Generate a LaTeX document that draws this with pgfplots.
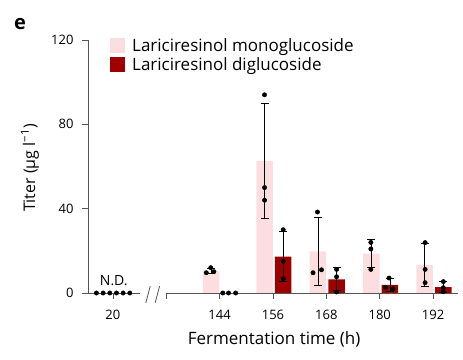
\documentclass[border=0pt]{standalone}
\usepackage{pgfplots}
\pgfplotsset{compat=1.18}
\usepackage{fontspec}
\setmainfont{Open Sans}
\definecolor{mono}{RGB}{252,222,224}
\definecolor{digl}{RGB}{158,0,0}
\definecolor{axgray}{RGB}{85,85,85}
\begin{document}
\begin{tikzpicture}
\begin{axis}[
  scale only axis, width=370pt, height=253pt,
  xmin=114.4, xmax=197.6, ymin=0, ymax=120,
  axis x line*=bottom, axis y line*=left,
  x axis line style={draw=none},
  y axis line style={axgray, line width=0.8pt, -},
  xtick={120,132,144,156,168,180,192},
  xticklabels={20,,144,156,168,180,192},
  ytick={0,40,80,120},
  tick align=outside, major tick length=6pt,
  tick style={axgray, line width=0.8pt},
  clip=false,
  /pgf/number format/assume math mode=true,
  ticklabel style={font=\fontsize{13}{15}\selectfont},
  xticklabel style={yshift=-8pt},
  yticklabel style={xshift=-5pt},
  xlabel={Fermentation time (h)},
  xlabel style={at={(axis description cs:0.503,-0.2055)}, anchor=base, font=\fontsize{17}{19}\selectfont},
  ylabel={Titer (μg l\textsuperscript{−1})},
  ylabel style={at={(axis description cs:-0.143,0.494)}, anchor=base, font=\fontsize{16}{18}\selectfont},
  legend style={at={(axis description cs:0.0595,1.008)}, anchor=north west, draw=none, fill=none,
    inner sep=0pt, row sep=4pt, font=\fontsize{17}{19}\selectfont,
    nodes={inner sep=0pt},
    /tikz/every odd column/.append style={column sep=7pt}},
  legend cell align=left,
]
\addplot[ybar, bar width=3.71, bar shift=0pt, fill=mono, draw=none,
  legend image code/.code={\fill[mono] (0pt,-7.5pt) rectangle (15pt,7.5pt);}]
  coordinates {(142.1,10.5) (154.1,62.7) (166.1,19.8) (178.1,18.7) (190.1,13.3)};
\addlegendentry{Lariciresinol monoglucoside}
\addplot[ybar, bar width=3.71, bar shift=0pt, fill=digl, draw=none,
  legend image code/.code={\fill[digl] (0pt,-7.5pt) rectangle (15pt,7.5pt);}]
  coordinates {(146.3,0) (158.3,17.3) (170.3,6.5) (182.3,3.9) (194.3,2.8)};
\addlegendentry{Lariciresinol diglucoside}
% error bars
\addplot[forget plot, draw=none, mark=none,
  error bars/.cd, y dir=both, y explicit,
  error bar style={draw=black, line width=0.7pt},
  error mark options={rotate=90, mark size=4pt, line width=0.7pt, draw=black}]
  coordinates {
  (142.1,10.5) +- (0,1.2)
  (154.1,62.7) +- (0,27.3)
  (166.1,19.8) +- (0,16.1)
  (178.1,18.7) +- (0,6.7)
  (190.1,13.3) +- (0,10.3)
  (158.3,17.3) +- (0,12.0)
  (170.3,6.5) +- (0,5.45)
  (182.3,3.9) +- (0,3.1)
  (194.3,2.8) +- (0,2.7)
  };
% replicate points
\addplot[forget plot, only marks, mark=*, mark size=2.2pt, black]
  coordinates {
  (116.3,0) (117.8,0) (119.3,0) (120.8,0) (122.3,0) (123.8,0)
  (141.0,9.6) (142.0,12.0) (142.7,10.1)
  (144.7,0) (146.0,0) (147.6,0)
  (154.1,94) (154.1,50) (154.1,44)
  (158.3,30) (158.3,15) (158.3,6.8)
  (165.0,9.6) (166.9,11.0) (166.0,38.4)
  (170.3,11.2) (170.3,7.7) (170.3,0.5)
  (178.0,24.0) (178.0,20.9) (178.0,11.2)
  (181.3,2.7) (182.1,7.1) (183.0,2.0)
  (190.2,23.9) (190.2,11.2) (190.2,4.9)
  (194.3,5.4) (194.3,2.5) (194.3,0.6)
  };
% broken x axis
\draw[axgray, line width=0.8pt] (axis cs:114.4,0) -- (axis cs:126.1,0);
\draw[axgray, line width=0.8pt] (axis cs:132,0) -- (axis cs:197.6,0);
\draw[axgray, line width=0.8pt] (axis cs:127.4,-4.7) -- (axis cs:128.4,3.3);
\draw[axgray, line width=0.8pt] (axis cs:129.5,-4.7) -- (axis cs:130.5,3.3);
\node[anchor=base, font=\fontsize{14}{16}\selectfont] at (axis cs:120.2,3.6) {N.D.};
\node[anchor=base, font=\fontsize{20}{22}\selectfont\bfseries] at (axis description cs:-0.184,1.04) {e};
\end{axis}
\pgfresetboundingbox
\path (current axis.south west) ++(-88pt,-66pt) rectangle ++(463pt,359pt);
\end{tikzpicture}
\end{document}
